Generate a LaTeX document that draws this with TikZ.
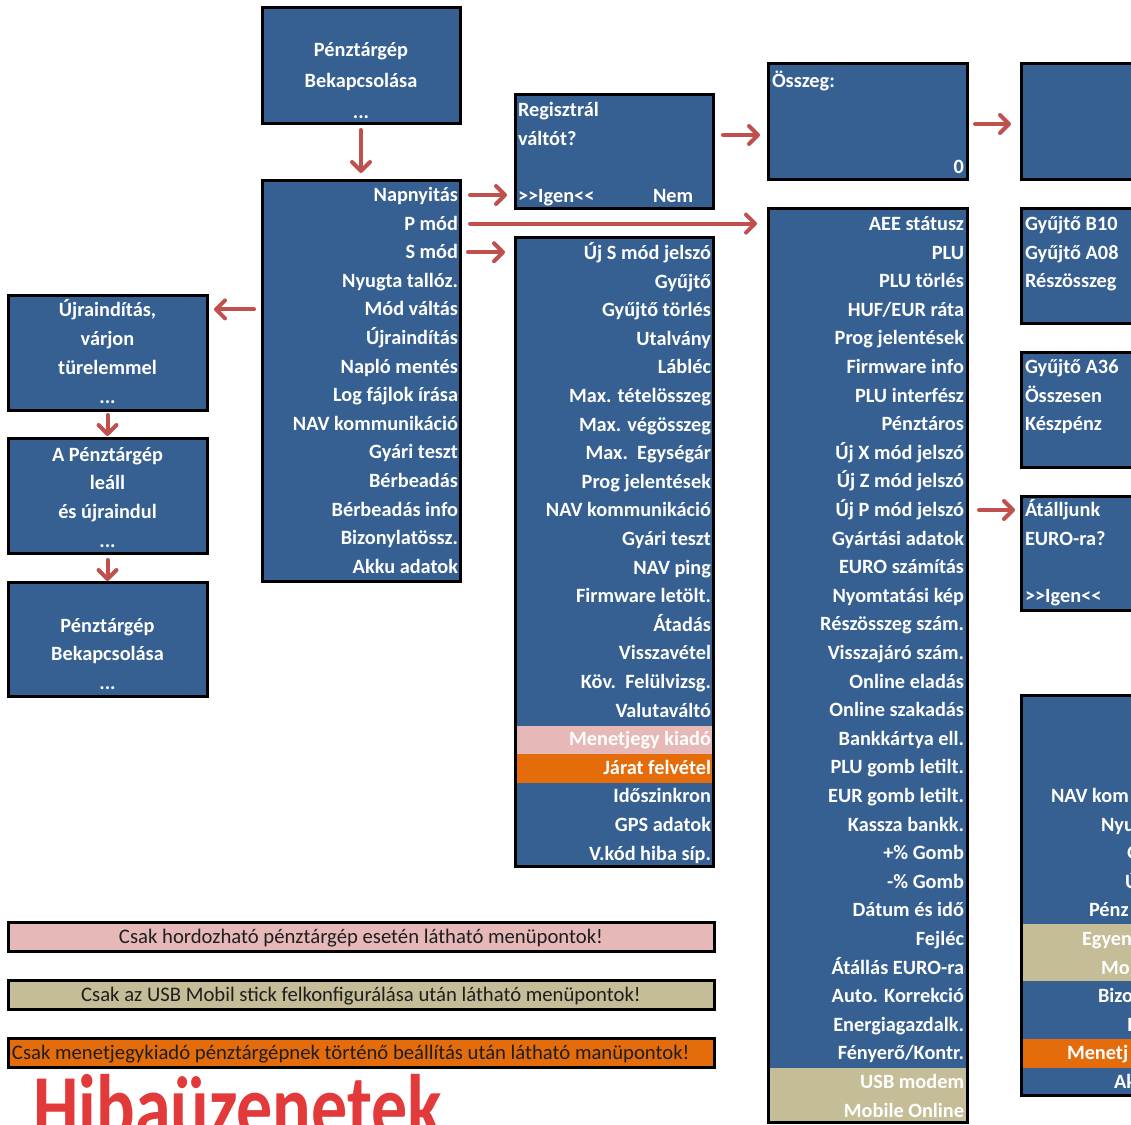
\documentclass[tikz,border=0pt]{standalone}
\usepackage{fontspec}
\setmainfont{Carlito}
\usetikzlibrary{arrows.meta}
\definecolor{boxblue}{RGB}{54,96,146}
\definecolor{arrred}{RGB}{192,80,77}
\definecolor{pinkband}{RGB}{230,185,184}
\definecolor{orangeband}{RGB}{228,108,10}
\definecolor{tanband}{RGB}{196,189,151}
\definecolor{hibared}{RGB}{226,58,58}
\definecolor{legtext}{RGB}{30,30,30}
\newcommand\mkbox[5]{\node[box,minimum width={#4pt-#2pt},minimum height={#5pt-#3pt}] (#1) at (#2,#3) {};}
\begin{document}
\begin{tikzpicture}[x=1pt,y=-1pt,
  box/.style={draw=black,line width=3pt,fill=boxblue,inner sep=0pt,outer sep=0pt,anchor=north west},
  item/.style={font=\bfseries\fontsize{20.3}{24}\selectfont,text=white,inner sep=0pt,outer sep=0pt,text height=17pt,text depth=4pt},
  arr/.style={draw=arrred,line width=4pt,line cap=round,-{Straight Barb[length=9pt,width=18pt,round]}},
  legend/.style={draw=black,line width=3pt,inner sep=0pt,outer sep=0pt,anchor=north west,font=\fontsize{20.7}{24}\selectfont,text=legtext,text height=17pt,text depth=4pt}]
\useasboundingbox (0,0) rectangle (1131,1124);
\clip (0,0) rectangle (1131,1124);
\fill[white] (0,0) rectangle (1131,1124);

% boxes
\mkbox{top}{262}{8}{460}{123}
\mkbox{main}{262}{180}{460}{581}
\mkbox{left1}{8}{295}{207}{410}
\mkbox{left2}{8}{438}{207}{553}
\mkbox{left3}{8}{582}{207}{696}
\mkbox{reg}{515}{94}{713}{208}
\mkbox{sum}{768}{63}{967}{179}
\mkbox{r0}{1021}{63}{1220}{179}
\mkbox{smenu}{515}{237}{713}{866}
\mkbox{pmenu}{768}{208}{967}{1122}
\mkbox{r1}{1021}{208}{1220}{323}
\mkbox{r2}{1021}{352}{1220}{467}
\mkbox{r3}{1021}{496}{1220}{610}
\mkbox{r4}{1021}{695}{1220}{1095}

% coloured bands
\fill[pinkband] (516.5,725.5) rectangle (711.5,754.2);
\fill[orangeband] (516.5,754.2) rectangle (711.5,782.8);
\fill[tanband] (769.5,1067.5) rectangle (965.5,1120.5);
\fill[tanband] (1022.5,924) rectangle (1131,981);
\fill[orangeband] (1022.5,1039) rectangle (1131,1067.5);

% top and left boxes
\node[item] (t1) at (361,50) {Pénztárgép};
\node[item] (t2) at (361,81) {Bekapcsolása};
\node[item] (t3) at (361,112) {...};
\node[item] (l1a) at (107.5,310) {Újraindítás,};
\node[item] (l1b) at (107.5,339) {várjon};
\node[item] (l1c) at (107.5,368) {türelemmel};
\node[item] (l1d) at (107.5,397) {...};
\node[item] (l2a) at (107.5,455) {A Pénztárgép};
\node[item] (l2b) at (107.5,483) {leáll};
\node[item] (l2c) at (107.5,512) {és újraindul};
\node[item] (l2d) at (107.5,541) {...};
\node[item] (l3a) at (107.5,626) {Pénztárgép};
\node[item] (l3b) at (107.5,654) {Bekapcsolása};
\node[item] (l3c) at (107.5,683) {...};

% main menu
\foreach \t [count=\i from 0] in {Napnyitás,P mód,S mód,Nyugta tallóz.,Mód váltás,Újraindítás,Napló mentés,Log fájlok írása,NAV kommunikáció,Gyári teszt,Bérbeadás,Bérbeadás info,Bizonylatössz.,Akku adatok}
  \node[item,anchor=east] (m\i) at (458,{195+28.6*\i}) {\t};

% S menu
\foreach \t [count=\i from 0] in {Új S mód jelszó,Gyűjtő,Gyűjtő törlés,Utalvány,Lábléc,Max. tételösszeg,Max. végösszeg,Max.\ \ Egységár,Prog jelentések,NAV kommunikáció,Gyári teszt,NAV ping,Firmware letölt.,Átadás,Visszavétel,Köv.\ \ Felülvizsg.,Valutaváltó,Menetjegy kiadó,Járat felvétel,Időszinkron,GPS adatok,V.kód hiba síp.}
  \node[item,anchor=east] (s\i) at (711,{253+28.6*\i}) {\t};

% P menu
\foreach \t [count=\i from 0] in {AEE státusz,PLU,PLU törlés,HUF/EUR ráta,Prog jelentések,Firmware info,PLU interfész,Pénztáros,Új X mód jelszó,Új Z mód jelszó,Új P mód jelszó,Gyártási adatok,EURO számítás,Nyomtatási kép,Részösszeg szám.,Visszajáró szám.,Online eladás,Online szakadás,Bankkártya ell.,PLU gomb letilt.,EUR gomb letilt.,Kassza bankk.,+\% Gomb,-\% Gomb,Dátum és idő,Fejléc,Átállás EURO-ra,Auto. Korrekció,Energiagazdalk.,Fényerő/Kontr.,USB modem,Mobile Online}
  \node[item,anchor=east] (p\i) at (964,{224+28.6*\i}) {\t};

% Regisztral box
\node[item,anchor=west] (rg1) at (518,110) {Regisztrál};
\node[item,anchor=west] (rg2) at (518,138.6) {váltót?};
\node[item,anchor=west] (rg3) at (518,195.8) {>{}>Igen<{}<};
\node[item,anchor=west] (rg4) at (653,195.8) {Nem};
% Osszeg box
\node[item,anchor=west] (sm1) at (772,81) {Összeg:};
\node[item,anchor=east] (sm2) at (964,166.8) {0};
% right boxes
\node[item,anchor=west] (ra1) at (1025,224) {Gyűjtő B10};
\node[item,anchor=west] (ra2) at (1025,252.6) {Gyűjtő A08};
\node[item,anchor=west] (ra3) at (1025,281.2) {Részösszeg};
\node[item,anchor=west] (rb1) at (1025,367) {Gyűjtő A36};
\node[item,anchor=west] (rb2) at (1025,395.6) {Összesen};
\node[item,anchor=west] (rb3) at (1025,424.2) {Készpénz};
\node[item,anchor=west] (rc1) at (1025,510) {Átálljunk};
\node[item,anchor=west] (rc2) at (1025,538.6) {EURO-ra?};
\node[item,anchor=west] (rc3) at (1025,595.8) {>{}>Igen<{}<};
% bottom right box (cut off by the page edge)
\node[item,anchor=west] (rd1) at (1051,796) {NAV kom};
\node[item,anchor=west] (rd2) at (1101,824.6) {Nyu};
\node[item,anchor=west] (rd3) at (1127,853.2) {G};
\node[item,anchor=west] (rd4) at (1125,881.8) {Ú};
\node[item,anchor=west] (rd5) at (1089,910.4) {Pénz};
\node[item,anchor=west] (rd6) at (1082,939) {Egyen};
\node[item,anchor=west] (rd7) at (1101,967.6) {Mo};
\node[item,anchor=west] (rd8) at (1098,996.2) {Bizo};
\node[item,anchor=west] (rd9) at (1127,1024.8) {I};
\node[item,anchor=west] (rd10) at (1067,1053.4) {Menetj};
\node[item,anchor=west] (rd11) at (1114,1082) {Ak};

% legend
\node[legend,fill=pinkband,minimum width=706pt,minimum height=29pt] (lg1) at (8,922) {Csak hordozható pénztárgép esetén látható menüpontok!};
\node[legend,fill=tanband,minimum width=706pt,minimum height=29pt] (lg2) at (8,980) {Csak az USB Mobil stick felkonfigurálása után látható menüpontok!};
\node[legend,fill=orangeband,minimum width=706pt,minimum height=29pt] (lg3) at (8,1038) {};
\node[legend,draw=none,anchor=west] (lg3t) at (12,1052.5) {Csak menetjegykiadó pénztárgépnek történő beállítás után látható manüpontok!};

% title
\node[anchor=base west,inner sep=0pt,text=hibared,font=\bfseries\fontsize{90}{90}\selectfont] (title) at (33,1137) {\scalebox{0.8}[1]{Hibaüzenetek}};

% arrows
\draw[arr,shorten <=7pt,shorten >=7pt] (top.south) -- (main.north);
\draw[arr,shorten <=10pt,shorten >=8pt] (main.east |- m0) -- (reg.west |- m0);
\draw[arr,shorten <=10pt,shorten >=11pt] (main.east |- m1) -- (pmenu.west |- m1);
\draw[arr,shorten <=8pt,shorten >=10pt] (main.east |- m2) -- (smenu.west |- m2);
\draw[arr,shorten <=8pt,shorten >=7pt] (main.west |- m4) -- (left1.east |- m4);
\draw[arr,shorten <=5pt,shorten >=2pt] (left1.south) -- (left2.north);
\draw[arr,shorten <=7pt,shorten >=1pt] (left2.south) -- (left3.north);
\coordinate (a1) at ([yshift=16pt]reg.east);
\draw[arr,shorten <=10pt,shorten >=8pt] (a1) -- (a1 -| sum.west);
\coordinate (a2) at ([yshift=-3pt]sum.east);
\draw[arr,shorten <=8pt,shorten >=10pt] (a2) -- (a2 -| r0.west);
\draw[arr,shorten <=12pt,shorten >=6pt] (pmenu.east |- p10) -- (r3.west |- p10);
\end{tikzpicture}
\end{document}
